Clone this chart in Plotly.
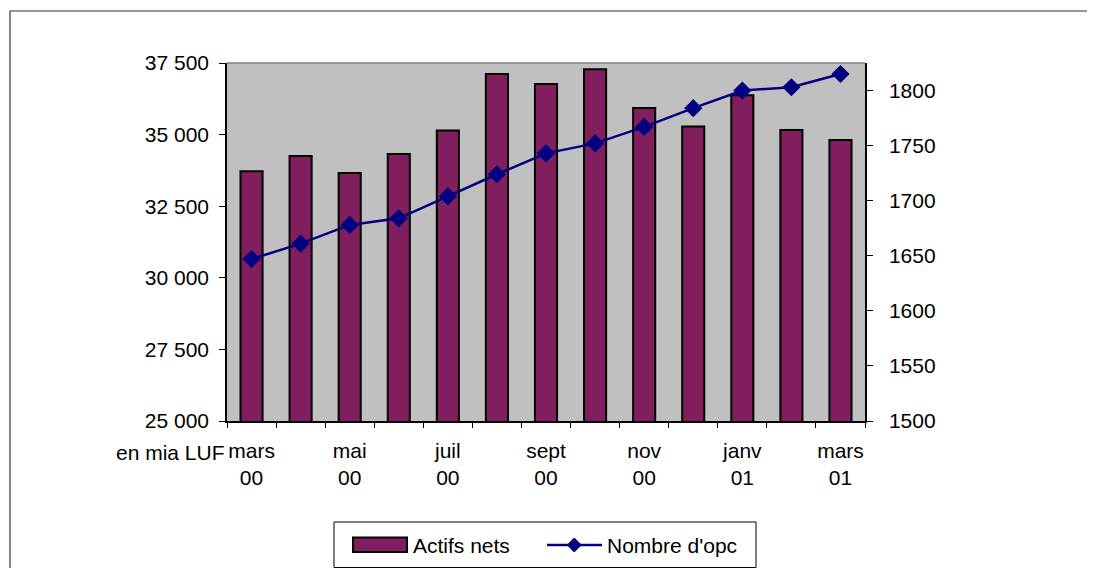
import plotly.graph_objects as go

# ---- data ----
categories = ["mars 00", "avr 00", "mai 00", "juin 00", "juil 00", "août 00", "sept 00",
              "oct 00", "nov 00", "déc 00", "janv 01", "févr 01", "mars 01"]
actifs_nets = [33720, 34250, 33660, 34320, 35140, 37120, 36770, 37280, 35930, 35280, 36370, 35160, 34810]
nombre_opc = [1647, 1661, 1678, 1684, 1704, 1724, 1743, 1752, 1767, 1784, 1800, 1803, 1815]
series_names = ["Actifs nets", "Nombre d'opc"]
label_every = 2
left_ticks = [25000, 27500, 30000, 32500, 35000, 37500]
right_ticks = [1500, 1550, 1600, 1650, 1700, 1750, 1800]

tick_text = [c.replace(" ", "<br>") if i % label_every == 0 else "" for i, c in enumerate(categories)]

FONT = "Liberation Sans, Arial, sans-serif"
FS = 21
BAR_COLOR = "#801E5E"
LINE_COLOR = "#000080"

fig = go.Figure()
fig.add_trace(go.Bar(
    x=categories, y=actifs_nets, name=series_names[0],
    marker=dict(color=BAR_COLOR, line=dict(color="black", width=2)),
    base=0, showlegend=False,
))
fig.add_trace(go.Scatter(
    x=categories, y=nombre_opc, name=series_names[1], yaxis="y2",
    mode="lines+markers",
    line=dict(color=LINE_COLOR, width=2.5),
    marker=dict(symbol="diamond", size=14, color=LINE_COLOR),
    showlegend=False,
))

# page body has an 8px margin in the browser: shift margins to compensate
fig.update_layout(
    width=1095, height=568, autosize=False,
    margin=dict(l=219, r=238, t=55, b=155, autoexpand=False),
    paper_bgcolor="white", plot_bgcolor="#C0C0C0",
    font=dict(family=FONT, size=FS, color="black"),
    separators=", ",
    bargap=0.55,
    showlegend=False,
    xaxis=dict(type="category", range=[-0.5, len(categories) - 0.5],
               tickmode="array", tickvals=categories, ticktext=tick_text,
               tickson="boundaries", ticks="outside", ticklen=5, tickcolor="black",
               showline=True, linecolor="black", linewidth=1.5, showgrid=False,
               zeroline=False, ticklabelstandoff=10, tickangle=0, automargin=False),
    yaxis=dict(range=[25000, 37500], tickvals=left_ticks, tickformat=",d",
               ticks="outside", ticklen=6, tickcolor="black", showline=True,
               linecolor="black", linewidth=1.5, showgrid=False, zeroline=False,
               ticklabelstandoff=6, automargin=False),
    yaxis2=dict(range=[1500, 1825], tickvals=right_ticks, tickformat="d", overlaying="y",
                side="right", ticks="outside", ticklen=6, tickcolor="black",
                showline=True, linecolor="black", linewidth=1.5, showgrid=False,
                zeroline=False, ticklabelstandoff=12, automargin=False),
)

# ---- decoration: outer frame, top border of the plot area, legend box ----
def px_x(p):
    return (p - 227) / 638.0

def px_y(p):
    return (421 - p) / 358.0

shapes = [
    dict(type="line", xref="paper", yref="paper", x0=0, x1=1, y0=1, y1=1,
         line=dict(color="#808080", width=1.5), layer="above"),
    dict(type="rect", xref="paper", yref="paper", x0=px_x(10), x1=px_x(1120),
         y0=px_y(600), y1=px_y(11), line=dict(color="#333333", width=1.2), layer="above"),
    # legend box
    dict(type="rect", xref="paper", yref="paper", x0=px_x(334), x1=px_x(756),
         y0=px_y(567.5), y1=px_y(522), line=dict(color="black", width=1),
         fillcolor="white", layer="above"),
    # bar swatch
    dict(type="rect", xref="paper", yref="paper", x0=px_x(353), x1=px_x(407),
         y0=px_y(552), y1=px_y(537.5), line=dict(color="black", width=2),
         fillcolor=BAR_COLOR, layer="above"),
    # line swatch
    dict(type="line", xref="paper", yref="paper", x0=px_x(547), x1=px_x(602),
         y0=px_y(545), y1=px_y(545), line=dict(color=LINE_COLOR, width=2.5), layer="above"),
    # diamond marker swatch
    dict(type="path", xref="paper", yref="paper",
         path=f"M {px_x(567.3)} {px_y(545)} L {px_x(574.3)} {px_y(538)} "
              f"L {px_x(581.3)} {px_y(545)} L {px_x(574.3)} {px_y(552)} Z",
         line=dict(color=LINE_COLOR, width=1), fillcolor=LINE_COLOR, layer="above"),
]

annotations = [
    dict(text="en mia LUF", xref="paper", yref="paper", x=0, y=px_y(452),
         xanchor="right", yanchor="middle", showarrow=False,
         font=dict(family=FONT, size=FS)),
    dict(text=series_names[0], xref="paper", yref="paper", x=px_x(411), y=px_y(545),
         xanchor="left", yanchor="middle", showarrow=False,
         font=dict(family=FONT, size=FS)),
    dict(text=series_names[1], xref="paper", yref="paper", x=px_x(605), y=px_y(545),
         xanchor="left", yanchor="middle", showarrow=False,
         font=dict(family=FONT, size=FS)),
]

fig.update_layout(shapes=shapes, annotations=annotations)

fig.write_html("out.html")
